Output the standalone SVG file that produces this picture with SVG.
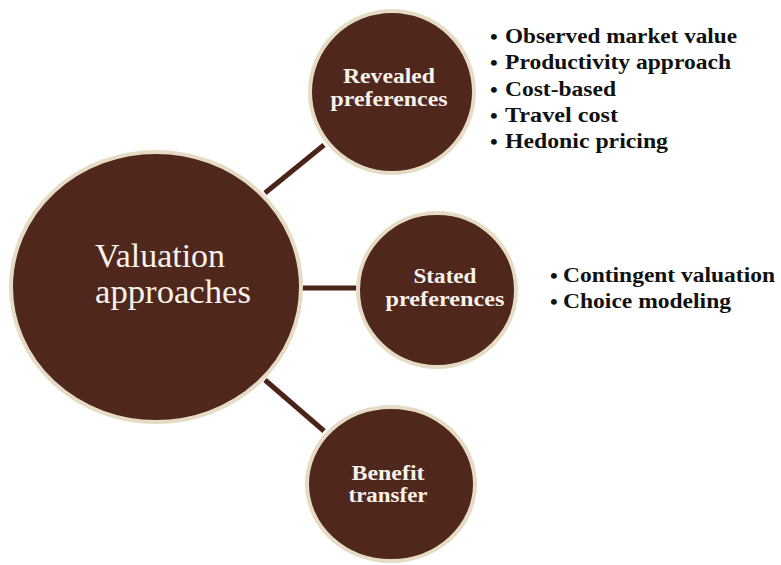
<svg xmlns="http://www.w3.org/2000/svg" width="781" height="565" viewBox="0 0 781 565">
<style>
.node{fill:#4f271d;stroke:#e6dcc6;stroke-width:4}
.conn{stroke:#4a2419;stroke-width:5;fill:none}
.big{font-family:"Liberation Serif",serif;font-size:33px;fill:#f7f2ea}
.lbl{font-family:"Liberation Serif",serif;font-weight:bold;font-size:20px;fill:#f7f2ea;text-anchor:middle}
.item{font-family:"Liberation Serif",serif;font-weight:bold;font-size:20px;fill:#111}
.bul{font-family:"Liberation Serif",serif;font-weight:bold;font-size:22px;fill:#111}
</style>
<rect width="781" height="565" fill="#fff"/>
<g id="connectors">
<line class="conn" x1="265" y1="193" x2="324" y2="145"/>
<line class="conn" x1="300" y1="288" x2="360" y2="288"/>
<line class="conn" x1="265" y1="380" x2="324" y2="431"/>
</g>
<g id="valuation">
<ellipse class="node" cx="156" cy="287" rx="145" ry="135"/>
<text class="big" x="95" y="267" textLength="130" lengthAdjust="spacingAndGlyphs">Valuation</text>
<text class="big" x="95" y="303" textLength="156" lengthAdjust="spacingAndGlyphs">approaches</text>
</g>
<g id="revealed">
<ellipse class="node" cx="392" cy="92" rx="82" ry="81"/>
<text class="lbl" x="389" y="83" textLength="92" lengthAdjust="spacingAndGlyphs">Revealed</text>
<text class="lbl" x="389" y="106" textLength="117" lengthAdjust="spacingAndGlyphs">preferences</text>
</g>
<g id="stated">
<ellipse class="node" cx="437" cy="290" rx="79" ry="77"/>
<text class="lbl" x="445" y="283" textLength="63" lengthAdjust="spacingAndGlyphs">Stated</text>
<text class="lbl" x="445" y="306" textLength="119" lengthAdjust="spacingAndGlyphs">preferences</text>
</g>
<g id="benefit">
<ellipse class="node" cx="391" cy="484" rx="84" ry="77"/>
<text class="lbl" x="388" y="480" textLength="73" lengthAdjust="spacingAndGlyphs">Benefit</text>
<text class="lbl" x="388" y="502" textLength="79" lengthAdjust="spacingAndGlyphs">transfer</text>
</g>
<g id="revealed-list">
<text class="bul" x="490" y="44">•</text><text class="item" x="505" y="43" textLength="232" lengthAdjust="spacingAndGlyphs">Observed market value</text>
<text class="bul" x="490" y="70">•</text><text class="item" x="505" y="69" textLength="226" lengthAdjust="spacingAndGlyphs">Productivity approach</text>
<text class="bul" x="490" y="97">•</text><text class="item" x="505" y="96" textLength="111" lengthAdjust="spacingAndGlyphs">Cost-based</text>
<text class="bul" x="490" y="123">•</text><text class="item" x="505" y="122" textLength="113" lengthAdjust="spacingAndGlyphs">Travel cost</text>
<text class="bul" x="490" y="149">•</text><text class="item" x="505" y="148" textLength="163" lengthAdjust="spacingAndGlyphs">Hedonic pricing</text>
</g>
<g id="stated-list">
<text class="bul" x="550" y="283">•</text><text class="item" x="563" y="282" textLength="212" lengthAdjust="spacingAndGlyphs">Contingent valuation</text>
<text class="bul" x="550" y="309">•</text><text class="item" x="563" y="308" textLength="168" lengthAdjust="spacingAndGlyphs">Choice modeling</text>
</g>
</svg>
